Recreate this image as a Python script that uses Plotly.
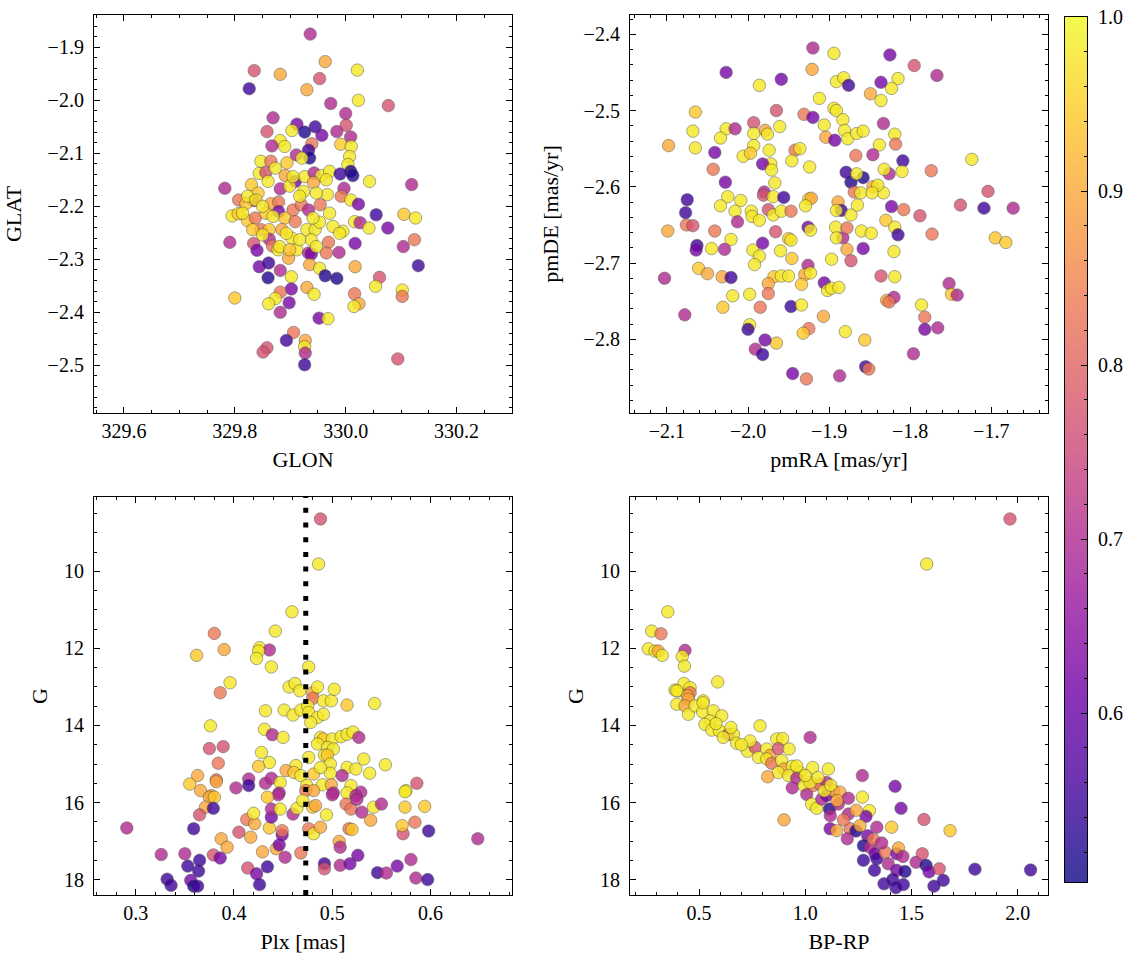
import plotly.graph_objects as go
from plotly.colors import sequential, hex_to_rgb

# ---------------- data ----------------
# Panel 1: sky positions
glon = [329.936, 329.963, 329.835, 329.882, 330.021, 329.953, 329.826, 329.930, 330.023, 329.973,
        330.077, 330.000, 329.869, 329.912, 330.001, 329.945, 329.858, 329.903, 329.926, 329.984,
        329.957, 330.009, 329.882, 329.890, 329.867, 329.939, 329.991, 330.010, 329.933, 329.911,
        329.935, 330.007, 329.847, 329.865, 329.894, 329.921, 330.004, 329.844, 329.856, 329.873,
        329.891, 329.909, 329.926, 329.943, 329.956, 329.971, 329.990, 330.009, 330.013, 330.043,
        330.119, 329.782, 329.830, 329.842, 329.860, 329.882, 329.924, 329.942, 329.967, 329.997,
        329.992, 330.009, 330.023, 329.807, 329.834, 329.820, 329.865, 329.879, 329.905, 329.920,
        329.933, 329.954, 329.971, 330.055, 330.105, 330.126, 329.795, 329.806, 329.823, 329.837,
        329.856, 329.879, 329.890, 329.909, 329.930, 329.945, 329.953, 329.995, 330.016, 330.026,
        330.042, 330.076, 329.847, 329.862, 329.885, 329.834, 329.791, 329.862, 329.868, 329.903,
        329.938, 329.969, 330.017, 330.104, 330.124, 329.840, 329.878, 329.912, 329.933, 329.938,
        329.965, 329.988, 329.844, 329.861, 329.897, 329.935, 329.953, 329.882, 329.860, 329.902,
        329.963, 329.984, 330.017, 330.061, 330.054, 330.102, 330.102, 330.131, 329.930, 329.943,
        329.902, 329.882, 330.016, 330.024, 330.015, 329.800, 329.873, 329.861, 329.898, 329.882,
        329.952, 329.968, 329.906, 329.893, 329.927, 329.926, 329.927, 329.858, 329.851, 329.926,
        330.094, 329.823, 329.838, 329.850, 329.869, 329.893, 329.917, 329.941, 329.917, 329.899,
        329.832, 329.850, 329.947, 329.965, 329.977, 329.989, 329.947, 329.881, 329.899, 329.814,
        329.905]
glat = [-1.875, -1.927, -1.944, -1.951, -1.943, -1.959, -1.978, -1.980, -2.000, -2.006,
        -2.010, -2.025, -2.033, -2.045, -2.047, -2.050, -2.059, -2.057, -2.060, -2.059,
        -2.066, -2.069, -2.076, -2.087, -2.086, -2.082, -2.083, -2.087, -2.094, -2.103,
        -2.109, -2.106, -2.115, -2.115, -2.118, -2.109, -2.121, -2.138, -2.136, -2.128,
        -2.142, -2.153, -2.144, -2.137, -2.142, -2.134, -2.139, -2.134, -2.142, -2.153,
        -2.159, -2.166, -2.159, -2.175, -2.153, -2.167, -2.172, -2.155, -2.178, -2.166,
        -2.181, -2.188, -2.196, -2.188, -2.189, -2.195, -2.195, -2.192, -2.207, -2.197,
        -2.207, -2.197, -2.213, -2.216, -2.215, -2.222, -2.218, -2.214, -2.227, -2.222,
        -2.213, -2.210, -2.222, -2.229, -2.244, -2.244, -2.230, -2.247, -2.229, -2.231,
        -2.241, -2.241, -2.244, -2.244, -2.244, -2.270, -2.268, -2.262, -2.275, -2.260,
        -2.263, -2.268, -2.270, -2.276, -2.263, -2.283, -2.282, -2.282, -2.288, -2.290,
        -2.288, -2.287, -2.314, -2.307, -2.298, -2.310, -2.317, -2.321, -2.335, -2.333,
        -2.331, -2.336, -2.314, -2.334, -2.351, -2.358, -2.370, -2.312, -2.353, -2.366,
        -2.356, -2.362, -2.365, -2.384, -2.389, -2.373, -2.374, -2.384, -2.382, -2.400,
        -2.411, -2.412, -2.438, -2.453, -2.453, -2.465, -2.477, -2.467, -2.475, -2.499,
        -2.488, -2.181, -2.188, -2.200, -2.219, -2.251, -2.263, -2.222, -2.181, -2.162,
        -2.244, -2.254, -2.175, -2.150, -2.238, -2.251, -2.276, -2.276, -2.282, -2.213,
        -2.144]
prob_sky = [0.70, 0.90, 0.77, 0.90, 0.98, 0.77, 0.55, 0.90, 0.98, 0.70,
            0.77, 0.70, 0.70, 0.62, 0.77, 0.55, 0.77, 0.98, 0.52, 0.70,
            0.62, 0.70, 0.98, 0.98, 0.70, 0.83, 0.94, 0.98, 0.55, 0.70,
            0.52, 0.98, 0.98, 0.83, 0.94, 0.98, 0.98, 0.98, 0.77, 0.98,
            0.90, 0.62, 0.98, 0.70, 0.98, 0.98, 0.55, 0.52, 0.52, 0.98,
            0.70, 0.70, 0.94, 0.94, 0.98, 0.70, 0.98, 0.90, 0.98, 0.70,
            0.83, 0.98, 0.62, 0.83, 0.70, 0.94, 0.90, 0.83, 0.83, 0.83,
            0.70, 0.83, 0.98, 0.55, 0.94, 0.98, 0.98, 0.94, 0.94, 0.83,
            0.94, 0.62, 0.94, 0.83, 0.98, 0.98, 0.98, 0.98, 0.98, 0.70,
            0.98, 0.62, 0.83, 0.94, 0.90, 0.77, 0.70, 0.70, 0.83, 0.98,
            0.98, 0.83, 0.62, 0.70, 0.83, 0.62, 0.98, 0.98, 0.70, 0.62,
            0.83, 0.70, 0.62, 0.55, 0.90, 0.90, 0.98, 0.70, 0.52, 0.98,
            0.52, 0.52, 0.90, 0.77, 0.98, 0.98, 0.83, 0.55, 0.90, 0.98,
            0.62, 0.83, 0.83, 0.90, 0.98, 0.94, 0.98, 0.98, 0.62, 0.70,
            0.62, 0.98, 0.83, 0.55, 0.90, 0.98, 0.70, 0.77, 0.77, 0.55,
            0.77, 0.98, 0.98, 0.98, 0.98, 0.98, 0.98, 0.98, 0.98, 0.98,
            0.94, 0.98, 0.98, 0.98, 0.98, 0.98, 0.98, 0.98, 0.94, 0.98,
            0.98]

# Panel 2: proper motions
pmra = [-1.920, -1.894, -1.825, -1.795, -2.027, -1.921, -1.767, -1.959, -1.986, -1.891,
        -1.882, -1.876, -1.836, -1.815, -1.823, -1.849, -1.836, -1.912, -2.065, -1.965,
        -1.931, -1.920, -1.894, -1.891, -1.883, -1.833, -1.906, -1.881, -1.877, -1.866,
        -1.858, -2.068, -2.027, -2.016, -1.993, -1.979, -1.976, -1.961, -1.993, -2.034,
        -1.904, -1.893, -1.819, -1.818, -1.838, -2.098, -2.065, -2.041, -1.993, -1.974,
        -1.942, -1.936, -1.946, -1.867, -1.846, -1.724, -1.809, -2.006, -1.997, -2.043,
        -1.972, -1.982, -1.971, -1.924, -1.774, -1.810, -1.826, -1.832, -1.879, -1.873,
        -1.858, -1.866, -2.028, -1.967, -1.833, -1.869, -1.846, -1.840, -1.861, -1.847,
        -1.704, -2.025, -2.034, -2.009, -2.016, -1.980, -1.981, -1.969, -1.956, -1.925,
        -1.922, -1.929, -1.889, -1.885, -1.891, -1.873, -1.865, -1.823, -1.808, -1.738,
        -1.709, -1.673, -2.075, -2.077, -1.996, -1.995, -1.986, -1.975, -1.969, -1.959,
        -1.947, -1.788, -2.099, -2.076, -2.068, -2.041, -2.013, -1.966, -1.950, -1.947,
        -2.021, -1.926, -1.923, -1.892, -1.883, -1.878, -1.860, -1.848, -1.830, -1.819,
        -1.815, -1.773, -1.695, -1.682, -2.063, -2.064, -2.045, -2.029, -1.994, -1.986,
        -1.992, -1.982, -1.960, -1.946, -1.897, -1.891, -1.878, -1.873, -1.858, -1.820,
        -1.926, -2.103, -2.061, -2.050, -2.032, -2.021, -1.968, -1.959, -1.950, -1.975,
        -1.930, -1.923, -1.934, -1.906, -1.902, -1.897, -1.888, -1.836, -1.819, -1.752,
        -1.749, -1.742, -1.975, -2.019, -1.998, -1.829, -1.820, -1.826, -2.031, -1.985,
        -1.947, -1.934, -1.907, -1.786, -1.782, -2.078, -1.998, -2.000, -1.925, -1.932,
        -1.880, -1.782, -1.766, -1.965, -1.979, -1.856, -1.991, -1.982, -1.796, -1.855,
        -1.851, -1.945, -1.887, -1.928]
pmde = [-2.418, -2.425, -2.427, -2.441, -2.450, -2.446, -2.454, -2.459, -2.467, -2.462,
        -2.457, -2.467, -2.463, -2.458, -2.471, -2.478, -2.487, -2.484, -2.502, -2.500,
        -2.505, -2.509, -2.497, -2.500, -2.512, -2.517, -2.519, -2.526, -2.537, -2.530,
        -2.527, -2.527, -2.524, -2.524, -2.516, -2.526, -2.531, -2.521, -2.530, -2.536,
        -2.535, -2.539, -2.531, -2.544, -2.545, -2.546, -2.549, -2.555, -2.546, -2.552,
        -2.552, -2.550, -2.566, -2.559, -2.558, -2.564, -2.566, -2.560, -2.556, -2.577,
        -2.570, -2.570, -2.578, -2.574, -2.579, -2.580, -2.583, -2.577, -2.581, -2.594,
        -2.588, -2.583, -2.594, -2.595, -2.608, -2.607, -2.600, -2.598, -2.608, -2.608,
        -2.606, -2.613, -2.625, -2.618, -2.632, -2.607, -2.611, -2.613, -2.614, -2.616,
        -2.615, -2.625, -2.620, -2.631, -2.631, -2.637, -2.624, -2.626, -2.630, -2.624,
        -2.628, -2.628, -2.617, -2.634, -2.632, -2.639, -2.644, -2.630, -2.637, -2.632,
        -2.632, -2.638, -2.658, -2.650, -2.651, -2.658, -2.646, -2.659, -2.668, -2.670,
        -2.669, -2.653, -2.657, -2.653, -2.667, -2.654, -2.658, -2.661, -2.644, -2.653,
        -2.663, -2.662, -2.667, -2.673, -2.677, -2.683, -2.681, -2.682, -2.683, -2.691,
        -2.702, -2.674, -2.684, -2.694, -2.695, -2.667, -2.682, -2.697, -2.681, -2.685,
        -2.703, -2.720, -2.707, -2.714, -2.718, -2.719, -2.718, -2.717, -2.717, -2.727,
        -2.715, -2.713, -2.728, -2.726, -2.736, -2.733, -2.732, -2.717, -2.718, -2.727,
        -2.741, -2.742, -2.740, -2.743, -2.741, -2.749, -2.745, -2.751, -2.758, -2.758,
        -2.757, -2.755, -2.770, -2.755, -2.771, -2.768, -2.781, -2.787, -2.786, -2.792,
        -2.790, -2.787, -2.785, -2.805, -2.801, -2.801, -2.813, -2.820, -2.819, -2.836,
        -2.839, -2.845, -2.848, -2.852]
prob_pm = [0.70, 0.98, 0.62, 0.77, 0.62, 0.90, 0.70, 0.62, 0.98, 0.98,
           0.98, 0.55, 0.62, 0.98, 0.98, 0.90, 0.98, 0.98, 0.94, 0.77,
           0.83, 0.62, 0.98, 0.98, 0.98, 0.70, 0.98, 0.98, 0.98, 0.98,
           0.98, 0.98, 0.98, 0.70, 0.77, 0.90, 0.98, 0.98, 0.98, 0.98,
           0.90, 0.62, 0.98, 0.83, 0.98, 0.90, 0.98, 0.62, 0.98, 0.98,
           0.83, 0.98, 0.98, 0.83, 0.70, 0.98, 0.55, 0.98, 0.94, 0.83,
           0.98, 0.62, 0.98, 0.98, 0.83, 0.98, 0.70, 0.98, 0.55, 0.52,
           0.52, 0.98, 0.62, 0.98, 0.98, 0.83, 0.90, 0.98, 0.98, 0.98,
           0.77, 0.98, 0.98, 0.98, 0.98, 0.70, 0.77, 0.98, 0.55, 0.98,
           0.90, 0.98, 0.90, 0.55, 0.98, 0.98, 0.98, 0.62, 0.83, 0.77,
           0.55, 0.70, 0.55, 0.55, 0.98, 0.98, 0.98, 0.77, 0.98, 0.98,
           0.83, 0.77, 0.90, 0.83, 0.77, 0.83, 0.70, 0.77, 0.94, 0.98,
           0.98, 0.62, 0.98, 0.98, 0.70, 0.83, 0.98, 0.98, 0.94, 0.98,
           0.55, 0.83, 0.94, 0.94, 0.55, 0.62, 0.98, 0.70, 0.98, 0.98,
           0.98, 0.62, 0.98, 0.94, 0.98, 0.98, 0.90, 0.77, 0.62, 0.98,
           0.70, 0.70, 0.94, 0.90, 0.90, 0.55, 0.94, 0.98, 0.98, 0.90,
           0.90, 0.98, 0.94, 0.62, 0.98, 0.98, 0.98, 0.77, 0.98, 0.70,
           0.94, 0.70, 0.83, 0.98, 0.98, 0.90, 0.70, 0.83, 0.94, 0.83,
           0.55, 0.98, 0.90, 0.98, 0.83, 0.70, 0.98, 0.55, 0.83, 0.94,
           0.98, 0.62, 0.70, 0.94, 0.62, 0.94, 0.70, 0.55, 0.70, 0.55,
           0.83, 0.62, 0.70, 0.83]

# Panel 3: parallax vs G
plx = [0.488, 0.486, 0.459, 0.442, 0.380, 0.390, 0.426, 0.436, 0.362, 0.425,
       0.423, 0.438, 0.476, 0.396, 0.386, 0.456, 0.462, 0.467, 0.480, 0.485,
       0.480, 0.491, 0.499, 0.502, 0.515, 0.543, 0.432, 0.451, 0.460, 0.468,
       0.475, 0.476, 0.485, 0.491, 0.478, 0.376, 0.431, 0.439, 0.450, 0.488,
       0.491, 0.500, 0.509, 0.515, 0.521, 0.527, 0.485, 0.375, 0.389, 0.428,
       0.495, 0.501, 0.492, 0.495, 0.476, 0.384, 0.436, 0.425, 0.532, 0.554,
       0.463, 0.498, 0.498, 0.515, 0.524, 0.538, 0.453, 0.461, 0.481, 0.488,
       0.468, 0.510, 0.363, 0.355, 0.382, 0.415, 0.402, 0.415, 0.432, 0.438,
       0.447, 0.474, 0.490, 0.499, 0.519, 0.529, 0.575, 0.586, 0.366, 0.377,
       0.446, 0.473, 0.481, 0.501, 0.515, 0.524, 0.382, 0.375, 0.380, 0.371,
       0.379, 0.365, 0.291, 0.359, 0.326, 0.350, 0.353, 0.365, 0.364, 0.332,
       0.336, 0.356, 0.359, 0.363, 0.379, 0.386, 0.387, 0.393, 0.405, 0.417,
       0.414, 0.423, 0.426, 0.434, 0.429, 0.443, 0.452, 0.446, 0.449, 0.449,
       0.413, 0.421, 0.436, 0.438, 0.438, 0.420, 0.445, 0.434, 0.460, 0.447,
       0.468, 0.476, 0.481, 0.488, 0.480, 0.464, 0.494, 0.492, 0.492, 0.507,
       0.508, 0.508, 0.518, 0.526, 0.517, 0.500, 0.514, 0.519, 0.525, 0.530,
       0.539, 0.542, 0.550, 0.546, 0.555, 0.566, 0.580, 0.585, 0.597, 0.598,
       0.572, 0.571, 0.584, 0.574, 0.594, 0.574, 0.648, 0.483, 0.470, 0.520]
g_plx = [8.64, 9.81, 11.05, 11.55, 11.61, 12.03, 11.98, 12.04, 12.18, 12.07,
         12.26, 12.48, 12.48, 12.89, 13.15, 13.00, 12.91, 13.10, 13.15, 13.00,
         13.30, 13.36, 13.36, 13.06, 13.47, 13.43, 13.62, 13.60, 13.73, 13.60,
         13.49, 13.66, 13.79, 13.71, 13.92, 14.01, 14.10, 14.24, 14.31, 14.31,
         14.35, 14.35, 14.29, 14.23, 14.17, 14.31, 14.48, 14.60, 14.55, 14.70,
         14.57, 14.61, 14.77, 14.77, 14.83, 14.98, 14.96, 15.06, 14.87, 15.02,
         15.04, 15.00, 15.24, 15.09, 15.13, 15.24, 15.17, 15.22, 15.26, 15.09,
         15.30, 15.30, 15.30, 15.52, 15.41, 15.39, 15.62, 15.56, 15.50, 15.37,
         15.48, 15.56, 15.54, 15.54, 15.56, 15.73, 15.69, 15.50, 15.69, 15.82,
         15.75, 15.69, 15.69, 15.75, 15.75, 15.82, 15.46, 15.86, 15.86, 16.12,
         16.15, 16.32, 16.66, 16.68, 17.35, 17.33, 17.65, 17.50, 17.78, 17.99,
         18.15, 18.02, 18.17, 18.17, 17.36, 17.44, 16.94, 17.16, 16.77, 16.90,
         17.70, 17.85, 18.13, 17.67, 17.28, 17.20, 17.42, 17.10, 16.84, 16.73,
         16.44, 16.55, 16.66, 16.38, 16.17, 16.28, 15.80, 15.86, 16.30, 16.17,
         17.31, 16.68, 16.81, 16.64, 16.12, 16.15, 16.32, 17.59, 17.72, 17.01,
         17.16, 17.63, 17.59, 17.37, 16.68, 15.80, 16.04, 16.17, 15.92, 16.25,
         16.46, 16.12, 16.04, 17.82, 17.83, 17.65, 17.48, 17.96, 18.00, 16.74,
         16.81, 16.60, 16.51, 16.12, 16.10, 15.72, 16.94, 16.08, 15.95, 16.70]
prob_plx = [0.77, 0.98, 0.98, 0.98, 0.83, 0.90, 0.98, 0.70, 0.94, 0.98,
            0.98, 0.98, 0.98, 0.98, 0.83, 0.98, 0.98, 0.98, 0.90, 0.98,
            0.83, 0.98, 0.98, 0.98, 0.94, 0.98, 0.98, 0.98, 0.98, 0.98,
            0.98, 0.98, 0.98, 0.98, 0.98, 0.98, 0.98, 0.70, 0.98, 0.98,
            0.94, 0.98, 0.98, 0.98, 0.98, 0.70, 0.98, 0.77, 0.77, 0.98,
            0.98, 0.98, 0.98, 0.94, 0.98, 0.83, 0.98, 0.94, 0.98, 0.98,
            0.98, 0.98, 0.98, 0.98, 0.98, 0.98, 0.90, 0.94, 0.94, 0.98,
            0.98, 0.70, 0.90, 0.94, 0.83, 0.70, 0.70, 0.55, 0.70, 0.70,
            0.98, 0.98, 0.98, 0.90, 0.98, 0.70, 0.98, 0.77, 0.90, 0.90,
            0.70, 0.83, 0.90, 0.70, 0.98, 0.70, 0.90, 0.90, 0.94, 0.90,
            0.55, 0.77, 0.70, 0.55, 0.70, 0.70, 0.55, 0.55, 0.55, 0.55,
            0.55, 0.62, 0.52, 0.55, 0.77, 0.62, 0.90, 0.90, 0.77, 0.90,
            0.77, 0.62, 0.55, 0.55, 0.90, 0.90, 0.70, 0.62, 0.62, 0.83,
            0.83, 0.90, 0.94, 0.62, 0.70, 0.98, 0.70, 0.94, 0.70, 0.98,
            0.83, 0.83, 0.98, 0.90, 0.94, 0.98, 0.98, 0.55, 0.77, 0.90,
            0.70, 0.70, 0.62, 0.62, 0.83, 0.70, 0.83, 0.83, 0.70, 0.70,
            0.90, 0.98, 0.70, 0.55, 0.70, 0.62, 0.70, 0.70, 0.55, 0.55,
            0.77, 0.94, 0.83, 0.94, 0.94, 0.98, 0.70, 0.90, 0.98, 0.94]
plx_ref = 0.473  # dotted reference parallax

# Panel 4: colour-magnitude diagram
bprp = [1.964, 1.572, 0.353, 0.277, 0.321, 0.261, 0.293, 0.308, 0.327, 0.434,
        0.421, 0.431, 0.588, 0.387, 0.400, 0.429, 0.458, 0.458, 0.445, 0.520,
        0.395, 0.450, 0.395, 0.434, 0.450, 0.481, 0.517, 0.519, 0.567, 0.607,
        0.552, 0.528, 0.560, 0.596, 0.638, 0.662, 0.614, 0.677, 0.787, 1.023,
        0.728, 0.764, 0.780, 0.819, 0.834, 0.819, 0.842, 0.866, 0.894, 0.873,
        0.924, 0.889, 0.900, 0.873, 0.939, 0.976, 0.823, 1.035, 1.109, 0.921,
        0.960, 0.939, 0.994, 1.007, 1.038, 1.070, 1.101, 1.269, 1.423, 1.030,
        1.054, 1.078, 1.101, 1.133, 1.164, 1.203, 1.114, 1.118, 1.156, 1.203,
        1.269, 1.302, 1.286, 1.451, 1.559, 0.900, 1.117, 1.148, 1.211, 1.239,
        1.258, 1.198, 1.294, 1.337, 1.407, 1.682, 1.274, 1.305, 1.329, 1.337,
        1.376, 1.431, 1.439, 1.522, 1.551, 1.274, 1.326, 1.391, 1.431, 1.470,
        1.569, 1.583, 1.631, 1.650, 1.606, 1.799, 2.061, 1.371, 1.412, 1.427,
        1.462, 1.023, 1.060, 1.150, 1.180, 1.000, 0.740, 0.700, 0.960, 1.090,
        1.240, 1.320, 1.360, 1.460, 1.120, 0.580, 0.650]
g_cmd = [8.64, 9.81, 11.05, 11.55, 11.62, 12.01, 12.07, 12.07, 12.18, 12.05,
         12.21, 12.46, 12.87, 13.08, 13.10, 12.91, 13.02, 13.15, 13.23, 13.36,
         13.10, 13.32, 13.45, 13.49, 13.71, 13.49, 13.65, 13.41, 13.62, 13.75,
         13.88, 13.97, 14.12, 14.14, 14.23, 14.23, 14.31, 14.46, 14.01, 14.31,
         14.67, 14.57, 14.83, 14.61, 14.78, 14.87, 14.98, 14.35, 14.34, 14.60,
         14.61, 14.91, 15.13, 15.22, 15.06, 15.22, 15.33, 15.09, 15.13, 15.30,
         15.37, 15.62, 15.56, 15.79, 15.56, 15.52, 15.48, 15.30, 15.58, 16.04,
         16.15, 15.91, 15.82, 15.69, 15.73, 15.89, 16.17, 16.34, 16.04, 16.30,
         15.86, 16.21, 16.36, 16.15, 16.44, 16.45, 16.68, 16.73, 16.68, 16.74,
         16.60, 16.94, 16.86, 16.64, 16.64, 16.73, 17.12, 17.16, 17.33, 17.46,
         17.29, 17.33, 17.18, 17.55, 17.33, 17.50, 17.76, 17.59, 17.76, 17.79,
         17.63, 17.80, 17.72, 18.02, 18.17, 17.73, 17.75, 18.11, 18.00, 18.21,
         18.13, 15.48, 15.35, 15.95, 16.45, 15.30, 14.40, 14.50, 15.05, 15.70,
         16.20, 16.95, 17.05, 17.40, 15.55, 13.95, 14.05]
prob_cmd = [0.77, 0.98, 0.98, 0.98, 0.83, 0.98, 0.98, 0.90, 0.98, 0.70,
            0.98, 0.98, 0.98, 0.98, 0.98, 0.98, 0.98, 0.83, 0.90, 0.98,
            0.98, 0.90, 0.98, 0.90, 0.98, 0.98, 0.98, 0.98, 0.98, 0.98,
            0.98, 0.98, 0.98, 0.98, 0.77, 0.98, 0.98, 0.98, 0.98, 0.70,
            0.98, 0.77, 0.98, 0.98, 0.90, 0.98, 0.83, 0.98, 0.98, 0.77,
            0.98, 0.98, 0.90, 0.98, 0.98, 0.98, 0.90, 0.98, 0.98, 0.98,
            0.70, 0.70, 0.98, 0.70, 0.83, 0.83, 0.70, 0.70, 0.62, 0.98,
            0.98, 0.70, 0.62, 0.90, 0.90, 0.70, 0.52, 0.70, 0.70, 0.70,
            0.98, 0.98, 0.62, 0.62, 0.77, 0.90, 0.62, 0.90, 0.83, 0.52,
            0.90, 0.70, 0.62, 0.70, 0.94, 0.94, 0.52, 0.70, 0.62, 0.55,
            0.83, 0.62, 0.90, 0.70, 0.77, 0.55, 0.55, 0.70, 0.62, 0.52,
            0.52, 0.62, 0.77, 0.55, 0.55, 0.55, 0.55, 0.55, 0.55, 0.55,
            0.55, 0.98, 0.98, 0.90, 0.83, 0.98, 0.98, 0.98, 0.98, 0.98,
            0.90, 0.83, 0.70, 0.70, 0.98, 0.98, 0.98]
cbar_ticks = [0.6, 0.7, 0.8, 0.9, 1.0]

# ---------------- styling ----------------
FONT = "Liberation Serif"
CMIN, CMAX = 0.503, 1.0
W, H, OFF = 1133, 965, 0   # body margin removed in the page (post_script)


def fx(px):
    return (px - OFF) / W


def fy(py):
    return 1 - (py - OFF) / H


fig = go.Figure()


def add_points(x, y, p, xa, ya):
    fig.add_trace(go.Scatter(
        x=x, y=y, mode="markers", xaxis=xa, yaxis=ya, showlegend=False,
        hoverinfo="skip",
        marker=dict(size=12.5, color=p, colorscale="Plasma", cmin=CMIN, cmax=CMAX,
                    opacity=0.8, line=dict(width=0.6, color="rgba(60,60,60,0.9)"))))


add_points(glon, glat, prob_sky, "x", "y")
add_points(pmra, pmde, prob_pm, "x2", "y2")
add_points(plx, g_plx, prob_plx, "x3", "y3")
add_points(bprp, g_cmd, prob_cmd, "x4", "y4")

# colour bar drawn as a heatmap (plasma seen through alpha 0.8)
blend = []
n = len(sequential.Plasma)
for i, h in enumerate(sequential.Plasma):
    r, g, b = hex_to_rgb(h)
    blend.append([i / (n - 1), "rgb(%d,%d,%d)" % (0.8 * r + 51, 0.8 * g + 51, 0.8 * b + 51)])
levels = [CMIN + (CMAX - CMIN) * k / 400 for k in range(401)]
fig.add_trace(go.Heatmap(z=[[v] for v in levels], x=[0], y=levels, colorscale=blend,
                         zmin=CMIN, zmax=CMAX, showscale=False, xaxis="x5", yaxis="y5",
                         hoverinfo="skip"))

tickfont = dict(family=FONT, size=20, color="black")
titlefont = dict(family=FONT, size=22, color="black")


def axis(dom, rng, dtick, mdtick, title, tick0=0, fmt=None, anchor=None, standoff=10,
         labpad=0):
    d = dict(domain=dom, range=rng, dtick=dtick, tick0=tick0, ticks="inside", ticklen=6,
             tickwidth=1, tickcolor="black", showline=True, linecolor="black", linewidth=1.2,
             mirror="allticks", showgrid=False, zeroline=False, tickfont=tickfont,
             ticklabelstandoff=labpad, automargin=False,
             minor=dict(dtick=mdtick, tick0=tick0, ticks="inside", ticklen=3,
                        tickwidth=1, tickcolor="black", showgrid=False),
             title=dict(text=title, font=titlefont, standoff=standoff))
    if fmt:
        d["tickformat"] = fmt
    if anchor:
        d["anchor"] = anchor
    return d


xl = [fx(94), fx(512)]
xr = [fx(630), fx(1048)]
yt = [fy(413), fy(15)]
yb = [fy(895), fy(497)]

fig.update_layout(
    width=W, height=H, margin=dict(l=0, r=0, t=0, b=0, autoexpand=False),
    paper_bgcolor="white", plot_bgcolor="white",
    xaxis=axis(xl, [329.546, 330.300], 0.2, 0.05, "GLON", tick0=329.6, fmt=".1f", anchor="y"),
    yaxis=axis(yt, [-2.59, -1.839], 0.1, 0.02, "GLAT", fmt=".1f", anchor="x",
               standoff=19, labpad=5),
    xaxis2=axis(xr, [-2.1456, -1.630], 0.1, 0.02, "pmRA [mas/yr]", fmt=".1f", anchor="y2"),
    yaxis2=axis(yt, [-2.8967, -2.3747], 0.1, 0.02, "pmDE [mas/yr]", fmt=".1f", anchor="x2",
                standoff=18, labpad=5),
    xaxis3=axis(xl, [0.2576, 0.6828], 0.1, 0.02, "Plx [mas]", fmt=".1f", anchor="y3"),
    yaxis3=axis(yb, [18.40, 8.07], 2, 0.5, "G", anchor="x3", standoff=10, labpad=5),
    xaxis4=axis(xr, [0.175, 2.143], 0.5, 0.1, "BP-RP", fmt=".1f", anchor="y4"),
    yaxis4=axis(yb, [18.40, 8.07], 2, 0.5, "G", anchor="x4", standoff=10, labpad=5),
    xaxis5=dict(domain=[fx(1065), fx(1087)], range=[-0.5, 0.5], anchor="y5",
                showticklabels=False, ticks="", showline=True, mirror=True, automargin=False,
                linecolor="black", linewidth=1.2, showgrid=False, zeroline=False),
    yaxis5=dict(domain=[fy(882), fy(17)], range=[CMIN, CMAX + 1e-6], anchor="x5", side="right",
                tickmode="array", tickvals=cbar_ticks, automargin=False,
                ticktext=["%.1f" % v for v in cbar_ticks], ticks="inside", ticklen=6,
                tickcolor="black", showline=True, mirror=True, linecolor="black",
                linewidth=1.2, showgrid=False, zeroline=False, tickfont=tickfont,
                ticklabelstandoff=6, ticklabeloverflow="allow",
                minor=dict(dtick=0.02, tick0=0, ticks="inside", ticklen=3,
                           tickcolor="black", showgrid=False)),
    shapes=[dict(type="line", xref="x3", yref="y3 domain", x0=plx_ref, x1=plx_ref,
                 y0=0, y1=1, line=dict(color="black", width=5, dash="5px,9.7px"))],
)

fig.write_html("out.html", config={"displayModeBar": False},
               post_script="document.body.style.margin='0px';"
                           "document.body.style.overflow='hidden';")
